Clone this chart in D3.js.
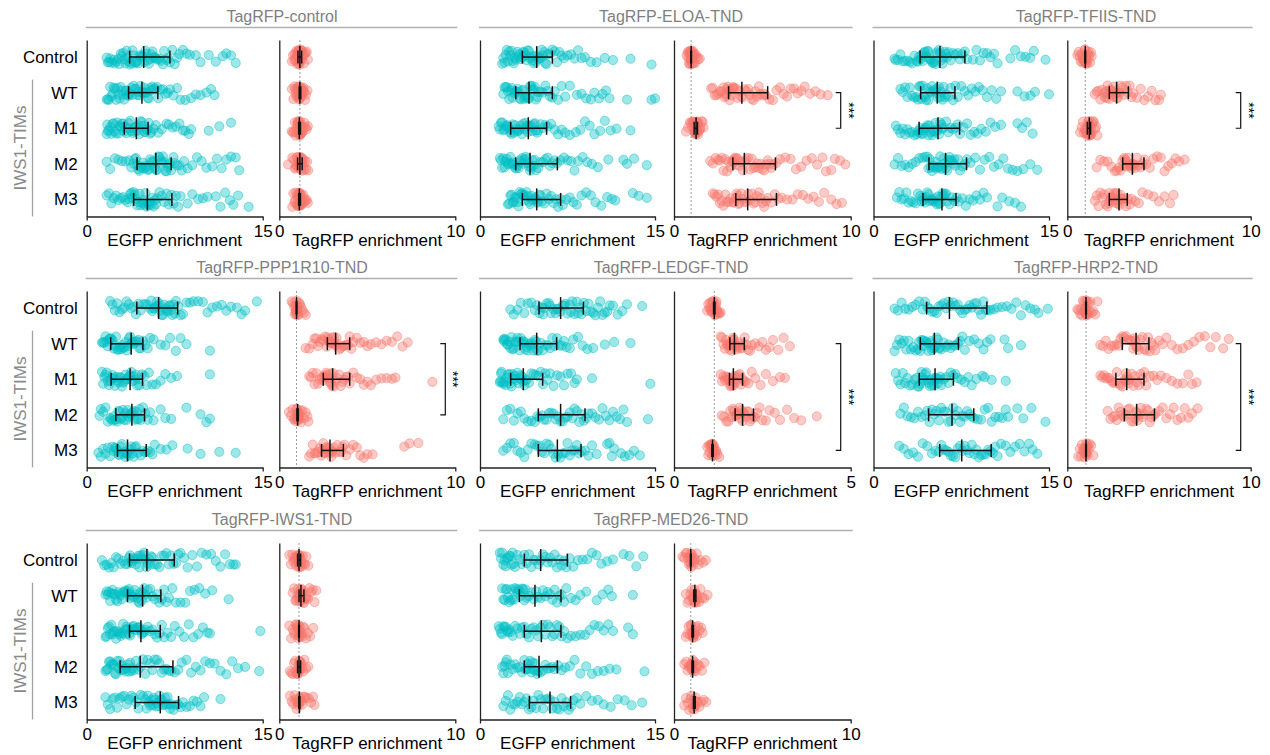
<!DOCTYPE html>
<html><head><meta charset="utf-8">
<script src="https://cdn.jsdelivr.net/npm/d3@7"></script>
<style>
body{margin:0;background:#fff}
svg{display:block;font-family:"Liberation Sans",Arial,Helvetica,sans-serif}
</style>
</head><body>
<svg id="c" width="1270" height="755"></svg>
<script>
// ---------------- DATA ----------------
const rowLabels = ["Control", "WT", "M1", "M2", "M3"];
const panelTitles = ["TagRFP-control","TagRFP-ELOA-TND","TagRFP-TFIIS-TND","TagRFP-PPP1R10-TND","TagRFP-LEDGF-TND","TagRFP-HRP2-TND","TagRFP-IWS1-TND","TagRFP-MED26-TND"];
const egfpTicks = [0, 15];
const tagMax = [10, 10, 10, 10, 5, 10, 10, 10];
const groupLabel = "IWS1-TIMs";
const sigPairs = [null, [1, 2], [1, 2], [1, 3], [1, 4], [1, 4], null, null];
const sigText = "***";

const CTRL_EGFP = [
 [1.7,1.8,1.9,2.0,2.1,2.3,2.4,2.5,2.7,2.8,2.9,3.0,3.1,3.2,3.3,3.4,3.5,3.6,3.7,3.8,3.9,4.0,4.1,4.2,4.3,4.4,4.5,4.6,4.7,4.8,4.9,5.0,5.1,5.2,5.3,5.4,5.5,5.6,5.7,5.8,5.9,6.0,6.2,6.3,6.5,6.6,6.8,6.9,7.1,7.3,7.5,7.7,7.9,8.2,8.5,8.8,9.3,9.7,10.4,11.0,11.6,11.9,12.3,12.7],
 [1.7,1.8,1.9,2.0,2.1,2.2,2.3,2.4,2.5,2.6,2.7,2.8,2.9,3.0,3.1,3.2,3.3,3.4,3.5,3.6,3.7,3.8,3.9,4.0,4.1,4.2,4.3,4.4,4.5,4.6,4.7,4.8,4.9,5.0,5.1,5.2,5.3,5.4,5.5,5.6,5.7,5.8,6.0,6.1,6.3,6.5,6.7,6.9,7.1,7.4,7.7,8.0,8.4,8.9,9.3,9.7,10.2,10.6,10.9],
 [1.7,1.75,1.8,1.9,2.0,2.1,2.2,2.3,2.4,2.5,2.6,2.7,2.8,2.9,3.0,3.1,3.2,3.3,3.4,3.5,3.6,3.7,3.8,3.9,4.0,4.1,4.2,4.3,4.4,4.5,4.6,4.7,4.8,4.9,5.0,5.1,5.2,5.3,5.4,5.5,5.7,5.9,6.1,6.4,6.8,7.0,7.3,7.6,7.9,8.2,8.4,8.7,8.9,10.4,11.3,12.3],
 [1.7,2.0,2.4,2.7,3.0,3.3,3.6,3.8,4.0,4.1,4.2,4.3,4.4,4.5,4.6,4.7,4.8,4.9,5.0,5.1,5.2,5.3,5.4,5.5,5.6,5.7,5.8,5.9,6.0,6.1,6.2,6.3,6.4,6.5,6.6,6.7,6.8,6.9,7.0,7.1,7.2,7.4,7.5,7.7,7.9,8.1,8.3,8.6,9.0,9.4,9.8,10.2,10.7,11.1,11.5,11.9,12.3,12.7,13.0],
 [1.7,1.9,2.1,2.3,2.5,2.7,2.9,3.1,3.3,3.5,3.6,3.7,3.8,3.9,4.0,4.1,4.2,4.3,4.4,4.5,4.6,4.7,4.8,4.9,5.0,5.1,5.2,5.3,5.4,5.5,5.6,5.7,5.8,5.9,6.0,6.2,6.4,6.6,6.8,7.0,7.2,7.4,7.6,7.8,8.0,8.6,9.0,9.5,9.9,10.3,11.0,11.4,11.8,12.2,12.5,12.9,13.8]
];
const CTRL_TAG = [
 [0.72,0.78,0.84,0.88,0.92,0.95,0.98,1.0,1.02,1.04,1.06,1.08,1.1,1.11,1.12,1.13,1.14,1.15,1.16,1.17,1.18,1.19,1.2,1.21,1.22,1.24,1.26,1.28,1.3,1.33,1.36,1.4,1.45,1.5,1.56,1.62],
 [0.72,0.8,0.86,0.9,0.94,0.97,1.0,1.03,1.05,1.07,1.09,1.11,1.12,1.13,1.14,1.15,1.16,1.17,1.18,1.19,1.2,1.21,1.22,1.23,1.25,1.27,1.29,1.31,1.34,1.37,1.41,1.46,1.52,1.6],
 [0.7,0.77,0.83,0.88,0.92,0.96,0.99,1.02,1.04,1.06,1.08,1.1,1.11,1.12,1.13,1.14,1.15,1.16,1.17,1.18,1.19,1.2,1.22,1.24,1.26,1.28,1.31,1.34,1.38,1.43,1.49,1.56,1.62],
 [0.5,0.74,0.82,0.88,0.93,0.97,1.0,1.03,1.06,1.08,1.1,1.12,1.14,1.15,1.16,1.17,1.18,1.19,1.2,1.21,1.22,1.24,1.26,1.28,1.3,1.33,1.37,1.41,1.46,1.52,1.58,1.64],
 [0.74,0.8,0.86,0.9,0.94,0.98,1.01,1.04,1.06,1.08,1.1,1.11,1.12,1.13,1.14,1.15,1.16,1.17,1.18,1.19,1.2,1.22,1.24,1.26,1.29,1.32,1.36,1.4,1.45,1.5,1.56,1.62]
];
const ELOA_EGFP = [
 [1.9,2.0,2.1,2.2,2.3,2.4,2.5,2.6,2.7,2.8,2.9,3.0,3.1,3.2,3.3,3.4,3.5,3.6,3.7,3.8,3.9,4.0,4.1,4.2,4.3,4.4,4.5,4.6,4.7,4.8,4.9,5.0,5.1,5.2,5.3,5.4,5.5,5.6,5.7,5.8,6.0,6.2,6.4,6.6,6.8,7.0,7.2,7.5,7.8,8.1,8.4,8.7,9.0,9.5,10.0,10.7,11.4,12.9,14.7],
 [2.0,2.1,2.2,2.3,2.4,2.5,2.6,2.7,2.8,2.9,3.0,3.1,3.2,3.3,3.4,3.5,3.6,3.7,3.8,3.9,4.0,4.1,4.2,4.3,4.4,4.5,4.6,4.7,4.8,4.9,5.0,5.2,5.4,5.6,5.8,6.0,6.2,6.4,6.7,7.0,7.3,7.7,8.3,8.7,9.1,9.5,9.8,10.2,10.5,10.8,11.1,12.6,14.7,15.0],
 [1.6,1.7,1.8,1.9,2.0,2.1,2.2,2.3,2.4,2.5,2.6,2.7,2.8,2.9,3.0,3.1,3.2,3.3,3.4,3.5,3.6,3.7,3.8,3.9,4.0,4.1,4.2,4.3,4.4,4.5,4.6,4.7,4.8,4.9,5.0,5.2,5.4,5.6,5.8,6.1,6.4,6.7,7.0,7.3,7.7,8.2,8.6,9.0,9.4,9.8,10.3,10.7,11.2,11.7,12.9],
 [1.7,1.8,1.9,2.0,2.1,2.2,2.3,2.4,2.5,2.6,2.7,2.8,2.9,3.0,3.1,3.2,3.3,3.4,3.5,3.6,3.7,3.8,3.9,4.0,4.1,4.2,4.3,4.4,4.5,4.6,4.7,4.8,5.0,5.2,5.4,5.6,5.8,6.0,6.2,6.4,6.6,6.9,7.2,7.5,7.8,8.1,8.4,8.8,9.2,9.6,10.1,11.0,12.3,12.6,13.2,14.3],
 [2.4,2.5,2.6,2.7,2.8,2.9,3.0,3.1,3.2,3.3,3.4,3.5,3.6,3.7,3.8,3.9,4.0,4.1,4.2,4.3,4.4,4.5,4.6,4.7,4.8,4.9,5.0,5.1,5.2,5.3,5.5,5.7,5.9,6.1,6.3,6.5,6.7,6.9,7.1,7.4,7.7,8.0,8.3,8.7,9.1,9.5,9.9,10.4,10.9,11.3,11.6,13.1,13.6,14.3]
];
const ELOA_TAG = [
 [0.72,0.77,0.81,0.84,0.86,0.88,0.9,0.91,0.92,0.93,0.94,0.95,0.96,0.97,0.98,0.99,1.0,1.01,1.02,1.03,1.05,1.07,1.09,1.12,1.15,1.19,1.24,1.3,1.38,1.46],
 [2.1,2.2,2.3,2.4,2.5,2.6,2.7,2.8,2.85,2.9,2.95,3.0,3.05,3.1,3.15,3.2,3.25,3.3,3.35,3.4,3.5,3.6,3.7,3.8,3.9,4.0,4.1,4.2,4.3,4.4,4.5,4.6,4.7,4.8,4.9,5.0,5.1,5.2,5.4,5.6,5.8,6.0,6.2,6.4,6.6,6.8,7.0,7.2,7.4,7.7,8.0,8.3,8.7],
 [0.68,0.8,0.9,0.97,1.02,1.06,1.09,1.12,1.14,1.16,1.18,1.2,1.21,1.22,1.23,1.24,1.25,1.26,1.27,1.28,1.29,1.3,1.31,1.32,1.34,1.36,1.38,1.41,1.45,1.5,1.56,1.62,1.67],
 [2.05,2.2,2.35,2.5,2.6,2.7,2.8,2.9,3.0,3.1,3.2,3.3,3.35,3.4,3.45,3.5,3.55,3.6,3.7,3.8,3.9,4.0,4.1,4.2,4.3,4.4,4.5,4.6,4.7,4.8,4.9,5.0,5.1,5.2,5.3,5.4,5.5,5.6,5.8,6.0,6.3,6.6,6.9,7.2,7.5,7.8,8.1,8.4,8.6,8.9,9.1,9.4,9.7],
 [2.2,2.3,2.4,2.5,2.6,2.7,2.8,2.9,3.0,3.1,3.2,3.3,3.4,3.5,3.55,3.6,3.65,3.7,3.8,3.9,4.0,4.1,4.2,4.3,4.4,4.5,4.6,4.7,4.8,4.9,5.0,5.1,5.2,5.3,5.5,5.7,5.9,6.1,6.4,6.7,7.0,7.3,7.6,7.9,8.2,8.5,8.9,9.2,9.5]
];
const TFIIS_EGFP = [
 [1.8,1.9,2.1,2.3,2.5,2.7,2.9,3.1,3.3,3.5,3.7,3.8,3.9,4.0,4.1,4.2,4.3,4.4,4.5,4.6,4.7,4.8,4.9,5.0,5.1,5.2,5.3,5.4,5.5,5.6,5.7,5.8,5.9,6.0,6.1,6.2,6.3,6.4,6.6,6.8,7.0,7.2,7.4,7.6,7.8,8.0,8.5,8.8,9.1,9.4,9.7,10.0,10.3,10.6,11.7,12.1,12.6,13.0,13.4,13.7,14.7],
 [2.3,2.5,2.7,2.9,3.1,3.3,3.5,3.7,3.8,3.9,4.0,4.1,4.2,4.3,4.4,4.5,4.6,4.7,4.8,4.9,5.0,5.1,5.2,5.3,5.4,5.5,5.6,5.7,5.8,5.9,6.0,6.1,6.2,6.4,6.6,6.8,7.0,7.2,7.5,7.8,8.1,8.4,8.7,9.0,9.3,9.7,10.1,10.5,10.9,12.3,12.9,13.4,13.8,15.0],
 [1.9,2.1,2.3,2.5,2.7,2.9,3.1,3.3,3.5,3.7,3.8,3.9,4.0,4.1,4.2,4.3,4.4,4.5,4.6,4.7,4.8,4.9,5.0,5.1,5.2,5.3,5.4,5.5,5.6,5.7,5.8,5.9,6.0,6.2,6.4,6.6,6.8,7.0,7.2,7.4,7.7,8.0,8.3,8.6,8.9,9.2,9.6,10.0,10.4,10.9,12.3,12.7,13.1,13.6],
 [1.8,2.1,2.4,2.7,3.0,3.3,3.6,3.9,4.2,4.4,4.6,4.7,4.8,4.9,5.0,5.1,5.2,5.3,5.4,5.5,5.6,5.7,5.8,5.9,6.0,6.1,6.2,6.3,6.4,6.5,6.6,6.7,6.8,6.9,7.0,7.2,7.4,7.6,7.8,8.0,8.3,8.7,9.1,9.5,9.9,10.3,10.7,11.1,11.5,11.9,12.3,12.8,13.4,14.0],
 [2.0,2.2,2.4,2.6,2.8,3.0,3.2,3.4,3.6,3.8,4.0,4.1,4.2,4.3,4.4,4.5,4.6,4.7,4.8,4.9,5.0,5.1,5.2,5.3,5.4,5.5,5.6,5.7,5.8,5.9,6.0,6.1,6.2,6.3,6.5,6.7,6.9,7.1,7.3,7.6,7.9,8.2,8.5,8.8,9.1,9.4,9.7,10.6,11.0,11.6,12.1,12.6]
];
const TFIIS_TAG = [
 [0.55,0.62,0.68,0.73,0.78,0.82,0.85,0.88,0.9,0.92,0.94,0.95,0.96,0.97,0.98,0.99,1.0,1.01,1.02,1.03,1.05,1.07,1.09,1.12,1.15,1.19,1.24,1.29,1.33],
 [1.5,1.6,1.7,1.8,1.9,2.0,2.05,2.1,2.15,2.2,2.25,2.3,2.35,2.4,2.45,2.5,2.55,2.6,2.65,2.7,2.75,2.8,2.85,2.9,3.0,3.1,3.2,3.3,3.4,3.5,3.6,3.8,4.0,4.2,4.4,4.6,4.8,5.0,5.1],
 [0.7,0.78,0.85,0.91,0.96,1.0,1.03,1.06,1.08,1.1,1.12,1.14,1.16,1.18,1.19,1.2,1.21,1.22,1.23,1.24,1.26,1.28,1.3,1.33,1.36,1.4,1.45,1.51,1.57,1.64],
 [1.6,1.8,2.0,2.2,2.4,2.6,2.7,2.8,2.9,3.0,3.05,3.1,3.15,3.2,3.25,3.3,3.35,3.4,3.45,3.5,3.55,3.6,3.65,3.7,3.8,3.9,4.0,4.1,4.2,4.3,4.5,4.7,4.9,5.1,5.3,5.5,5.7,5.9,6.1,6.4],
 [1.5,1.6,1.7,1.8,1.9,2.0,2.1,2.2,2.25,2.3,2.35,2.4,2.45,2.5,2.55,2.6,2.65,2.7,2.75,2.8,2.85,2.9,2.95,3.0,3.1,3.2,3.3,3.4,3.5,3.7,3.9,4.1,4.4,4.7,5.0,5.3,5.6,5.8]
];
const PPP1R10_EGFP = [
 [2.0,2.2,2.4,2.6,2.8,3.0,3.2,3.4,3.6,3.8,4.0,4.2,4.4,4.6,4.8,5.0,5.2,5.4,5.5,5.6,5.7,5.8,5.9,6.0,6.1,6.2,6.3,6.4,6.5,6.6,6.7,6.8,6.9,7.0,7.1,7.2,7.3,7.4,7.5,7.6,7.8,8.0,8.2,8.5,8.8,9.1,9.5,9.9,10.3,10.7,11.1,11.5,11.9,12.3,12.8,13.2,13.5,14.5],
 [1.3,1.4,1.5,1.6,1.7,1.8,1.9,2.0,2.1,2.2,2.3,2.4,2.5,2.6,2.7,2.8,2.9,3.0,3.1,3.2,3.3,3.4,3.5,3.6,3.7,3.8,3.9,4.0,4.1,4.2,4.3,4.4,4.5,4.6,4.8,5.0,5.2,5.4,5.7,6.3,6.7,7.1,7.6,8.0,8.5,10.5],
 [1.3,1.4,1.5,1.6,1.7,1.8,1.9,2.0,2.1,2.2,2.3,2.4,2.5,2.6,2.7,2.8,2.9,3.0,3.1,3.2,3.3,3.4,3.5,3.6,3.7,3.8,3.9,4.0,4.1,4.2,4.3,4.4,4.5,4.7,4.9,5.1,5.3,5.6,5.9,6.3,6.7,7.2,7.7,10.5],
 [1.1,1.2,1.4,1.6,1.8,2.0,2.1,2.2,2.3,2.4,2.5,2.6,2.7,2.8,2.9,3.0,3.1,3.2,3.3,3.4,3.5,3.6,3.7,3.8,3.9,4.0,4.1,4.2,4.3,4.4,4.5,4.6,4.8,5.0,5.2,5.4,5.7,6.3,6.7,7.2,8.5,9.7,10.2,10.5],
 [1.0,1.2,1.4,1.6,1.8,2.0,2.2,2.3,2.4,2.5,2.6,2.7,2.8,2.9,3.0,3.1,3.2,3.3,3.4,3.5,3.6,3.7,3.8,3.9,4.0,4.1,4.2,4.4,4.6,4.8,5.0,5.2,5.4,5.6,5.8,6.3,6.8,7.3,8.6,9.7,11.3,12.7]
];
const PPP1R10_TAG = [
 [0.7,0.78,0.84,0.88,0.91,0.93,0.95,0.96,0.97,0.98,0.99,1.0,1.01,1.02,1.04,1.06,1.09,1.13,1.18,1.24,1.32,1.4,1.5],
 [1.5,1.7,1.9,2.0,2.1,2.2,2.3,2.4,2.5,2.6,2.7,2.75,2.8,2.85,2.9,2.95,3.0,3.05,3.1,3.15,3.2,3.25,3.3,3.4,3.5,3.6,3.7,3.8,3.9,4.0,4.1,4.2,4.4,4.6,4.8,5.0,5.2,5.5,5.8,6.1,6.4,6.7,7.0,7.3],
 [1.7,1.8,1.9,2.0,2.1,2.2,2.3,2.4,2.5,2.55,2.6,2.65,2.7,2.75,2.8,2.85,2.9,2.95,3.0,3.05,3.1,3.2,3.3,3.4,3.5,3.6,3.7,3.8,3.9,4.0,4.2,4.4,4.6,4.8,5.0,5.2,5.5,5.8,6.1,6.4,6.6,8.7],
 [0.55,0.66,0.75,0.82,0.88,0.92,0.96,0.99,1.01,1.03,1.04,1.05,1.06,1.07,1.08,1.1,1.12,1.15,1.19,1.24,1.31,1.4,1.5,1.6,1.65],
 [1.7,1.8,1.9,2.0,2.1,2.2,2.3,2.4,2.45,2.5,2.55,2.6,2.65,2.7,2.75,2.8,2.85,2.9,2.95,3.0,3.1,3.2,3.3,3.4,3.5,3.6,3.7,3.8,4.0,4.2,4.4,4.6,4.8,5.0,5.3,7.1,7.4,7.9]
];
const LEDGF_EGFP = [
 [2.6,2.9,3.2,3.5,3.8,4.1,4.4,4.7,4.9,5.1,5.3,5.4,5.5,5.7,5.9,6.0,6.1,6.3,6.5,6.6,6.7,6.9,7.1,7.2,7.3,7.5,7.7,7.8,7.9,8.1,8.3,8.4,8.5,8.7,8.9,9.1,9.3,9.5,9.7,9.9,10.1,10.3,10.5,10.7,10.9,11.1,11.4,11.8,12.2,12.6,13.9],
 [2.0,2.05,2.1,2.2,2.3,2.4,2.5,2.6,2.7,2.8,2.9,3.0,3.1,3.2,3.3,3.4,3.5,3.6,3.7,3.8,3.9,4.0,4.1,4.2,4.3,4.4,4.5,4.6,4.7,4.8,4.9,5.0,5.2,5.4,5.6,5.8,6.0,6.2,6.4,6.6,6.8,7.0,7.2,7.4,7.7,8.0,8.4,8.8,9.2,9.7,10.7,11.5,12.9],
 [1.7,1.75,1.8,1.85,1.9,2.0,2.1,2.2,2.3,2.4,2.5,2.6,2.7,2.8,2.9,3.0,3.1,3.2,3.3,3.4,3.5,3.6,3.7,3.8,3.9,4.0,4.2,4.4,4.6,4.8,5.0,5.2,5.4,5.6,5.8,6.0,6.3,6.6,6.9,7.2,7.5,7.8,8.1,8.3,9.6,14.6],
 [2.0,2.3,2.6,2.9,3.2,3.5,3.8,4.1,4.4,4.7,4.9,5.1,5.3,5.5,5.7,5.9,6.1,6.3,6.5,6.7,6.9,7.1,7.3,7.5,7.7,7.9,8.1,8.3,8.5,8.7,8.9,9.1,9.3,9.6,9.9,10.2,10.5,10.8,11.1,11.4,11.7,12.0,12.3,12.6,14.4],
 [2.0,2.3,2.6,2.9,3.2,3.5,3.8,4.1,4.4,4.7,4.9,5.1,5.3,5.5,5.7,5.9,6.1,6.3,6.5,6.7,6.9,7.1,7.3,7.5,7.7,7.9,8.1,8.3,8.5,8.7,9.0,9.3,9.6,10.0,10.9,11.1,11.3,11.5,12.1,12.4,12.8,13.2,13.7]
];
const LEDGF_TAG = [
 [0.94,0.97,1.0,1.02,1.04,1.06,1.07,1.08,1.09,1.1,1.11,1.12,1.13,1.14,1.15,1.16,1.17,1.18,1.19,1.2,1.22,1.24,1.26,1.29,1.32],
 [1.32,1.36,1.4,1.44,1.47,1.5,1.53,1.55,1.57,1.59,1.61,1.63,1.65,1.67,1.69,1.71,1.73,1.75,1.77,1.8,1.83,1.86,1.89,1.92,1.96,2.0,2.05,2.1,2.15,2.2,2.3,2.4,2.5,2.6,2.7,2.8,2.95,3.1,3.28],
 [1.32,1.36,1.4,1.44,1.47,1.5,1.53,1.55,1.57,1.59,1.61,1.63,1.65,1.67,1.69,1.71,1.73,1.76,1.79,1.82,1.86,1.9,1.94,1.98,2.03,2.1,2.2,2.3,2.45,2.6,2.8,3.0,3.14],
 [1.35,1.42,1.48,1.54,1.59,1.63,1.67,1.7,1.73,1.76,1.79,1.82,1.85,1.88,1.91,1.94,1.97,2.0,2.03,2.07,2.11,2.15,2.2,2.25,2.3,2.36,2.42,2.5,2.6,2.7,2.85,3.0,3.2,3.4,3.6,4.04],
 [0.94,0.97,0.99,1.01,1.03,1.05,1.06,1.07,1.08,1.09,1.1,1.11,1.12,1.13,1.14,1.16,1.18,1.2,1.23,1.28]
];
const HRP2_EGFP = [
 [1.8,2.1,2.4,2.7,3.0,3.3,3.6,3.9,4.2,4.4,4.6,4.8,5.0,5.2,5.4,5.6,5.8,6.0,6.2,6.4,6.6,6.8,7.0,7.2,7.4,7.6,7.8,8.0,8.2,8.4,8.6,8.8,9.0,9.2,9.4,9.6,9.8,10.0,10.3,10.6,11.0,11.4,11.8,12.2,12.6,13.0,13.4,13.8,14.1,14.9],
 [1.8,2.0,2.2,2.4,2.6,2.8,3.0,3.2,3.4,3.6,3.8,3.9,4.0,4.1,4.2,4.3,4.4,4.5,4.6,4.7,4.8,4.9,5.0,5.1,5.2,5.3,5.4,5.5,5.6,5.7,5.8,6.0,6.2,6.4,6.6,6.8,7.0,7.2,7.4,7.6,7.8,8.2,8.6,9.0,9.4,9.7,10.0,11.2,11.5,12.6],
 [1.9,2.1,2.3,2.5,2.7,2.9,3.1,3.3,3.5,3.7,3.8,3.9,4.0,4.1,4.2,4.3,4.4,4.5,4.6,4.7,4.8,4.9,5.0,5.1,5.2,5.3,5.4,5.5,5.6,5.7,5.8,6.0,6.2,6.4,6.6,6.8,7.0,7.2,7.5,7.8,8.1,8.4,8.8,9.3,9.5,10.1,11.3],
 [2.3,2.6,2.9,3.2,3.5,3.8,4.1,4.4,4.6,4.8,5.0,5.2,5.4,5.6,5.8,6.0,6.2,6.4,6.6,6.8,7.0,7.2,7.4,7.6,7.8,8.0,8.2,8.4,8.6,8.9,9.2,9.5,9.8,10.1,10.4,10.7,11.0,11.3,11.5,12.3,12.8,13.5,14.7],
 [2.2,2.6,3.0,3.4,3.8,4.2,4.6,5.0,5.3,5.6,5.8,6.0,6.2,6.4,6.6,6.8,7.0,7.2,7.4,7.6,7.8,8.0,8.2,8.4,8.6,8.8,9.0,9.2,9.4,9.6,9.8,10.0,10.2,10.4,10.6,10.9,11.3,11.7,12.1,12.5,12.9,13.3,13.6,14.0]
];
const HRP2_TAG = [
 [0.55,0.63,0.7,0.76,0.81,0.85,0.89,0.92,0.95,0.97,0.99,1.0,1.01,1.02,1.03,1.04,1.05,1.07,1.09,1.12,1.15,1.2,1.26,1.33,1.42,1.52,1.64],
 [1.8,1.95,2.1,2.25,2.4,2.55,2.7,2.8,2.9,3.0,3.1,3.2,3.3,3.4,3.5,3.6,3.65,3.7,3.75,3.8,3.9,4.0,4.1,4.2,4.3,4.4,4.5,4.6,4.7,4.8,5.0,5.2,5.4,5.7,6.0,6.3,6.6,6.9,7.2,7.5,7.8,8.1,8.5,8.8],
 [1.8,1.9,2.0,2.1,2.2,2.3,2.4,2.5,2.6,2.7,2.8,2.9,3.0,3.1,3.15,3.2,3.25,3.3,3.35,3.4,3.5,3.6,3.7,3.8,3.9,4.0,4.1,4.2,4.3,4.5,4.7,4.9,5.1,5.4,5.7,6.0,6.3,6.6,6.8,7.05],
 [2.2,2.35,2.5,2.6,2.7,2.8,2.9,3.0,3.1,3.2,3.3,3.4,3.5,3.6,3.7,3.75,3.8,3.85,3.9,4.0,4.1,4.2,4.3,4.4,4.5,4.6,4.7,4.8,5.0,5.2,5.4,5.6,5.8,6.0,6.2,6.4,6.6,6.8,7.1],
 [0.6,0.68,0.75,0.8,0.85,0.89,0.92,0.95,0.97,0.99,1.0,1.01,1.02,1.03,1.04,1.05,1.07,1.09,1.12,1.16,1.22,1.3,1.42]
];
const IWS1_EGFP = [
 [1.3,1.5,1.7,1.9,2.1,2.3,2.5,2.7,2.9,3.1,3.3,3.5,3.6,3.7,3.8,3.9,4.0,4.1,4.2,4.3,4.4,4.5,4.6,4.7,4.8,4.9,5.0,5.1,5.2,5.3,5.4,5.5,5.6,5.8,6.0,6.2,6.4,6.6,6.8,7.0,7.2,7.4,7.6,7.8,8.0,8.3,8.6,9.0,9.4,9.8,10.2,10.6,11.0,11.4,11.8,12.2,12.5,12.7],
 [1.6,1.7,1.8,1.9,2.0,2.1,2.2,2.3,2.4,2.5,2.6,2.7,2.8,2.9,3.0,3.1,3.2,3.3,3.4,3.5,3.6,3.7,3.8,3.9,4.0,4.1,4.2,4.3,4.4,4.5,4.6,4.7,4.8,4.9,5.0,5.1,5.2,5.4,5.6,5.8,6.0,6.2,6.4,6.6,6.8,7.0,7.3,7.6,8.0,8.4,8.8,9.2,9.6,10.1,10.7,12.1],
 [1.6,1.7,1.8,1.9,2.0,2.1,2.2,2.3,2.4,2.5,2.6,2.7,2.8,2.9,3.0,3.1,3.2,3.3,3.4,3.5,3.6,3.7,3.8,3.9,4.0,4.1,4.2,4.3,4.4,4.5,4.6,4.7,4.8,4.9,5.0,5.2,5.4,5.6,5.8,6.0,6.2,6.4,6.6,6.9,7.2,7.5,7.9,8.3,8.7,9.1,9.5,9.9,10.3,10.5,14.8],
 [1.6,1.7,1.8,1.9,2.0,2.1,2.2,2.3,2.4,2.5,2.6,2.7,2.8,2.9,3.0,3.1,3.2,3.3,3.4,3.5,3.6,3.7,3.8,3.9,4.0,4.2,4.4,4.6,4.8,5.0,5.2,5.4,5.6,5.8,6.0,6.2,6.4,6.6,6.8,7.0,7.2,7.5,7.8,8.1,8.5,8.9,9.3,9.7,10.1,10.5,10.9,11.4,11.9,12.4,12.9,13.5,14.7],
 [1.6,1.8,2.0,2.2,2.4,2.6,2.8,3.0,3.2,3.4,3.6,3.8,4.0,4.2,4.4,4.6,4.8,5.0,5.1,5.2,5.3,5.4,5.5,5.6,5.7,5.8,5.9,6.0,6.1,6.2,6.3,6.4,6.5,6.6,6.7,6.8,6.9,7.0,7.1,7.2,7.4,7.6,7.8,8.0,8.2,8.5,8.8,9.1,9.4,9.7,10.0,11.4]
];
const IWS1_TAG = [
 [0.57,0.66,0.74,0.8,0.85,0.9,0.94,0.97,1.0,1.02,1.04,1.06,1.08,1.1,1.11,1.12,1.13,1.14,1.15,1.17,1.19,1.21,1.24,1.28,1.33,1.39,1.46,1.54,1.65],
 [0.76,0.84,0.91,0.97,1.02,1.06,1.1,1.13,1.16,1.19,1.21,1.23,1.25,1.27,1.3,1.33,1.36,1.4,1.45,1.5,1.56,1.63,1.71,1.8,1.9,2.0,2.1],
 [0.57,0.67,0.76,0.83,0.89,0.94,0.98,1.02,1.05,1.08,1.1,1.11,1.12,1.13,1.14,1.16,1.18,1.21,1.25,1.3,1.36,1.43,1.52,1.62,1.75,1.93],
 [0.6,0.69,0.77,0.84,0.9,0.95,0.99,1.02,1.05,1.08,1.1,1.12,1.14,1.16,1.18,1.21,1.25,1.3,1.36,1.43,1.52,1.65],
 [0.6,0.7,0.79,0.87,0.93,0.98,1.02,1.06,1.09,1.12,1.14,1.16,1.18,1.21,1.25,1.3,1.37,1.45,1.55,1.67,1.8,1.92,2.0]
];
const MED26_EGFP = [
 [1.7,1.8,1.9,2.0,2.1,2.2,2.3,2.4,2.5,2.6,2.7,2.8,2.9,3.0,3.2,3.4,3.6,3.8,4.0,4.2,4.4,4.6,4.8,5.0,5.2,5.4,5.6,5.8,6.0,6.2,6.4,6.6,6.8,7.0,7.2,7.4,7.7,8.0,8.4,8.8,9.2,9.6,10.0,10.4,10.9,11.4,12.3,12.8,13.4,14.0],
 [1.9,2.0,2.1,2.2,2.3,2.4,2.5,2.6,2.7,2.8,2.9,3.0,3.1,3.2,3.3,3.4,3.5,3.6,3.7,3.8,3.9,4.0,4.2,4.4,4.6,4.8,5.0,5.2,5.4,5.6,5.8,6.0,6.2,6.4,6.6,6.8,7.0,7.2,7.4,7.8,8.2,8.6,9.1,10.0,10.5,11.0,11.3,13.1],
 [1.6,1.7,1.8,1.9,2.0,2.1,2.2,2.3,2.4,2.5,2.6,2.8,3.0,3.2,3.4,3.6,3.8,4.0,4.2,4.4,4.6,4.8,5.0,5.2,5.4,5.6,5.8,6.0,6.2,6.4,6.6,6.8,7.0,7.2,7.5,7.8,8.2,8.6,9.0,9.4,9.8,10.2,10.6,11.0,11.4,12.7,13.1],
 [1.9,2.0,2.1,2.2,2.3,2.4,2.6,2.8,3.0,3.2,3.4,3.6,3.8,3.9,4.0,4.1,4.2,4.3,4.4,4.5,4.6,4.7,4.8,4.9,5.0,5.2,5.4,5.6,5.8,6.0,6.2,6.4,6.7,7.0,7.3,7.7,8.1,8.6,9.1,9.6,10.1,10.6,11.1,11.7,14.1],
 [2.0,2.2,2.4,2.6,2.8,3.0,3.2,3.4,3.6,3.8,4.0,4.2,4.4,4.6,4.8,5.0,5.2,5.4,5.6,5.8,6.0,6.2,6.4,6.6,6.8,7.0,7.2,7.4,7.6,7.8,8.0,8.3,8.6,9.1,9.6,10.1,10.6,11.2,11.8,12.4,13.0,13.9]
];
const MED26_TAG = [
 [0.48,0.58,0.66,0.73,0.79,0.84,0.88,0.91,0.93,0.95,0.96,0.97,0.98,1.0,1.02,1.05,1.09,1.14,1.2,1.28,1.38,1.5,1.64,1.8],
 [0.67,0.77,0.86,0.93,0.99,1.04,1.08,1.11,1.14,1.16,1.18,1.2,1.22,1.25,1.28,1.32,1.37,1.43,1.5,1.6,1.72,1.9],
 [0.67,0.76,0.83,0.89,0.94,0.98,1.01,1.03,1.05,1.07,1.09,1.11,1.14,1.18,1.23,1.29,1.36,1.45,1.54,1.62],
 [0.58,0.68,0.76,0.83,0.89,0.94,0.98,1.01,1.03,1.05,1.07,1.09,1.12,1.16,1.21,1.27,1.35,1.45,1.58,1.72],
 [0.58,0.68,0.78,0.86,0.93,0.99,1.04,1.08,1.11,1.14,1.16,1.19,1.23,1.28,1.35,1.44,1.55,1.68,1.82]
];

// summary marks: median and interquartile range
const EGFP_MED = [[4.86,4.71,4.23,5.89,5.17],[4.86,4.2,4.14,4.29,4.86],[5.68,5.45,5.51,6.16,5.85],[6.13,3.79,3.7,3.85,3.48],[6.91,4.86,3.71,6.91,6.63],[6.49,5.2,5.26,6.71,7.54],[5.13,4.76,4.62,4.56,6.27],[5.2,4.71,5.26,5.06,6.0]];
const EGFP_Q1 = [[3.66,3.57,3.2,4.29,4.0],[3.63,3.06,2.63,3.06,3.63],[3.98,4.03,3.9,4.74,4.23],[4.27,2.05,2.08,2.48,2.62],[5.06,3.43,2.63,5.0,5.0],[4.54,4.0,3.91,4.71,5.66],[3.65,3.48,3.65,2.85,4.13],[3.8,3.37,3.8,3.8,4.23]];
const EGFP_Q3 = [[7.09,6.06,5.23,7.2,7.26],[6.2,6.2,5.71,6.63,6.91],[7.81,6.96,7.36,7.95,7.05],[7.75,4.79,4.76,4.93,5.07],[8.86,6.57,5.37,9.0,8.66],[9.69,7.26,6.83,8.57,10.06],[7.46,6.32,6.27,7.35,7.83],[7.49,6.94,6.94,6.63,7.77]];
const TAG_MED = [[1.17,1.17,1.14,1.17,1.14],[0.97,3.84,1.25,3.98,4.17],[0.98,2.69,1.2,3.55,2.82],[0.98,3.2,3.03,1.04,2.88],[1.14,1.71,1.68,1.94,1.09],[1.02,3.75,3.24,3.78,1.02],[1.12,1.23,1.12,1.12,1.14],[0.95,1.18,1.05,1.05,1.14]];
const TAG_Q1 = [[1.06,1.13,1.1,1.04,1.1],[0.95,3.09,1.14,3.33,3.5],[0.96,2.29,1.09,3.02,2.29],[0.96,2.73,2.5,1.0,2.4],[1.12,1.58,1.57,1.73,1.07],[1.0,3.0,2.65,3.11,1.0],[1.04,1.12,1.1,1.04,1.11],[0.93,1.12,1.02,1.02,1.1]];
const TAG_Q3 = [[1.27,1.22,1.2,1.3,1.2],[0.99,5.3,1.33,5.74,5.8],[1.0,3.33,1.27,4.18,3.27],[1.0,4.0,4.0,1.08,3.64],[1.16,1.99,1.94,2.25,1.11],[1.04,4.45,4.18,4.75,1.04],[1.21,1.4,1.14,1.21,1.17],[0.97,1.24,1.1,1.1,1.2]];

const egfpSets = [CTRL_EGFP, ELOA_EGFP, TFIIS_EGFP, PPP1R10_EGFP, LEDGF_EGFP, HRP2_EGFP, IWS1_EGFP, MED26_EGFP];
const tagSets = [CTRL_TAG, ELOA_TAG, TFIIS_TAG, PPP1R10_TAG, LEDGF_TAG, HRP2_TAG, IWS1_TAG, MED26_TAG];

// ---------------- LAYOUT ----------------
const cols = [
  {e0: 86.7, e1: 262.7, t0: 279.3, t1: 455.3, tc: 282},
  {e0: 480, e1: 655, t0: 674, t1: 850.7, tc: 671},
  {e0: 873.5, e1: 1049, t0: 1067.3, t1: 1250.7, tc: 1086}
];
const rowTop = [0, 251, 503];
const place = [[0,0],[0,1],[0,2],[1,0],[1,1],[1,2],[2,0],[2,1]];
const TEAL = "#00BFC4", RED = "#F8766D";
const plotTop = 40, plotBot = 216.5;

const svg = d3.select("#c");

// deterministic vertical spread of the strip (layout only)
function jitter(i, r, k) {
  const s = Math.sin((i + 1) * 91.3458 + r * 47.853 + k * 12.9898) * 24634.6345;
  return (s - Math.floor(s) - 0.5) * 15;
}

function drawStrip(g, x, y, rows, color, q1, med, q3, k) {
  rows.forEach((vals, r) => {
    g.append("g").selectAll("circle").data(vals).join("circle")
      .attr("cx", d => x(d))
      .attr("cy", (d, i) => y(rowLabels[r]) + jitter(i, r, k))
      .attr("r", 4.6)
      .attr("fill", color).attr("fill-opacity", 0.38)
      .attr("stroke", color).attr("stroke-opacity", 0.5).attr("stroke-width", 0.9);
  });
  const eb = g.append("g").attr("stroke", "#111").attr("stroke-width", 1.5).attr("fill", "none");
  rowLabels.forEach((lab, r) => {
    const yc = y(lab);
    eb.append("line").attr("x1", x(q1[r])).attr("x2", x(q3[r])).attr("y1", yc).attr("y2", yc);
    [q1[r], q3[r]].forEach(v => eb.append("line").attr("x1", x(v)).attr("x2", x(v)).attr("y1", yc - 6.5).attr("y2", yc + 6.5));
    eb.append("line").attr("x1", x(med[r])).attr("x2", x(med[r])).attr("y1", yc - 11).attr("y2", yc + 11);
  });
}

function styleAxis(a) {
  a.selectAll(".domain").attr("stroke", "#222").attr("stroke-width", 1.3);
  a.selectAll(".tick line").attr("stroke", "#222").attr("stroke-width", 1.3);
  a.selectAll("text").attr("fill", "#000").style("font-size", "17px").style("font-family", '"Liberation Sans", Arial, sans-serif');
}

panelTitles.forEach((title, k) => {
  const [pr, pc] = place[k];
  const L = cols[pc];
  const g = svg.append("g").attr("transform", `translate(0,${rowTop[pr]})`);
  const y = d3.scalePoint().domain(rowLabels).range([plotTop, plotBot]).padding(0.48);
  const xE = d3.scaleLinear().domain([0, 15]).range([L.e0, L.e1]);
  const xT = d3.scaleLinear().domain([0, tagMax[k]]).range([L.t0, L.t1]);

  g.append("text").attr("x", L.tc).attr("y", 22).attr("text-anchor", "middle")
    .attr("fill", "#7f7f7f").style("font-size", "16px").text(title);
  g.append("line").attr("x1", L.e0 - 1).attr("x2", L.t1 + 2).attr("y1", 27.5).attr("y2", 27.5)
    .attr("stroke", "#b0b0b0").attr("stroke-width", 1.5);

  g.append("line").attr("x1", xT(TAG_MED[k][0])).attr("x2", xT(TAG_MED[k][0]))
    .attr("y1", plotTop).attr("y2", plotBot)
    .attr("stroke", "#9a9a9a").attr("stroke-width", 1).attr("stroke-dasharray", "2,2");

  drawStrip(g, xE, y, egfpSets[k], TEAL, EGFP_Q1[k], EGFP_MED[k], EGFP_Q3[k], k);
  drawStrip(g, xT, y, tagSets[k], RED, TAG_Q1[k], TAG_MED[k], TAG_Q3[k], k + 20);

  const axE = g.append("g").attr("transform", `translate(0,${plotBot})`)
    .call(d3.axisBottom(xE).tickValues(egfpTicks).tickSize(4).tickSizeOuter(0).tickPadding(4).tickFormat(d3.format("d")));
  styleAxis(axE);
  const axT = g.append("g").attr("transform", `translate(0,${plotBot})`)
    .call(d3.axisBottom(xT).tickValues([0, tagMax[k]]).tickSize(4).tickSizeOuter(0).tickPadding(4).tickFormat(d3.format("d")));
  styleAxis(axT);

  const ayE = g.append("g").attr("transform", `translate(${L.e0},0)`)
    .call(d3.axisLeft(y).tickSize(0).tickSizeOuter(0).tickPadding(9).tickFormat(pc === 0 ? (d => d) : () => ""));
  styleAxis(ayE);
  const ayT = g.append("g").attr("transform", `translate(${L.t0},0)`)
    .call(d3.axisLeft(y).tickSize(0).tickSizeOuter(0).tickFormat(() => ""));
  styleAxis(ayT);

  g.append("text").attr("x", (L.e0 + L.e1) / 2).attr("y", 246).attr("text-anchor", "middle")
    .style("font-size", "17px").attr("fill", "#000").text("EGFP enrichment");
  g.append("text").attr("x", (L.t0 + L.t1) / 2).attr("y", 246).attr("text-anchor", "middle")
    .style("font-size", "17px").attr("fill", "#000").text("TagRFP enrichment");

  if (pc === 0) {
    const yA = y("WT") - 13, yB = y("M3") + 17;
    g.append("line").attr("x1", 32.5).attr("x2", 32.5).attr("y1", yA).attr("y2", yB)
      .attr("stroke", "#a0a0a0").attr("stroke-width", 1.3);
    g.append("text").attr("transform", `translate(26,${(yA + yB) / 2}) rotate(-90)`)
      .attr("text-anchor", "middle").attr("fill", "#8a8a8a").style("font-size", "17px").text(groupLabel);
  }

  const sp = sigPairs[k];
  if (sp) {
    const bx = L.t1 - 10;
    const y1 = y(rowLabels[sp[0]]), y2 = y(rowLabels[sp[1]]);
    g.append("path").attr("d", `M${bx - 5},${y1}H${bx}V${y2}H${bx - 5}`)
      .attr("fill", "none").attr("stroke", "#111").attr("stroke-width", 1.2);
    g.append("text").attr("transform", `translate(${bx + 3},${(y1 + y2) / 2}) rotate(90)`)
      .attr("text-anchor", "middle").style("font-size", "14px").attr("fill", "#000").text(sigText);
  }
});
</script>
</body></html>
